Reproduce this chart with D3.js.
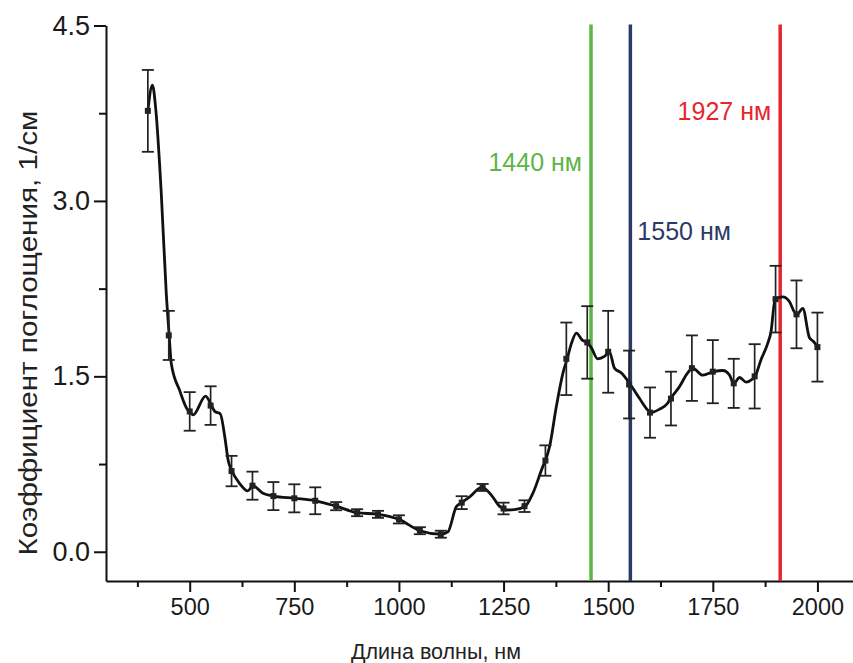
<!DOCTYPE html>
<html>
<head>
<meta charset="utf-8">
<script src="https://cdn.jsdelivr.net/npm/d3@7"></script>
<style>
    body { margin: 0; background: #fff; }
    svg { display: block; }
    text { font-family: "Liberation Sans", Arial, sans-serif; }
</style>
</head>
<body>
<div class="chart"></div>
<script>
// markers with error bars (every 50 nm)
const markerNm = [400, 450, 500, 550, 600, 650, 700, 750, 800, 850, 900, 950, 1000, 1050, 1100, 1150,
    1200, 1250, 1300, 1350, 1400, 1450, 1500, 1550, 1600, 1650, 1700, 1750, 1800, 1850, 1900, 1950, 2000];
const markerVal = [3.77, 1.85, 1.20, 1.25, 0.69, 0.565, 0.476, 0.457, 0.436, 0.39, 0.334, 0.32, 0.277, 0.18, 0.15, 0.42,
    0.55, 0.37, 0.39, 0.78, 1.65, 1.79, 1.71, 1.43, 1.19, 1.31, 1.57, 1.54, 1.44, 1.50, 2.16, 2.03, 1.75];
const markerErr = [0.35, 0.21, 0.165, 0.165, 0.13, 0.12, 0.12, 0.12, 0.115, 0.035, 0.03, 0.03, 0.035, 0.03, 0.03, 0.055,
    0.03, 0.05, 0.05, 0.13, 0.31, 0.31, 0.35, 0.29, 0.215, 0.23, 0.28, 0.27, 0.21, 0.275, 0.285, 0.29, 0.295];

// smooth spectrum curve
const curveNm = [400, 411, 419, 432, 444, 451, 456, 476, 496, 500, 508, 538, 552, 560, 573, 584, 592, 601, 619, 639, 651,
    675, 701, 751, 801, 850, 900, 950, 1000, 1050, 1100, 1117, 1137, 1150, 1169, 1198, 1224, 1240, 1250, 1256, 1276, 1302,
    1320, 1344, 1350, 1360, 1376, 1392, 1402, 1412, 1424, 1438, 1449, 1459, 1475, 1491, 1503, 1515, 1531, 1553, 1575,
    1595, 1601, 1623, 1642, 1649, 1670, 1690, 1702, 1726, 1752, 1774, 1790, 1800, 1814, 1830, 1842, 1851, 1865, 1881,
    1889, 1899, 1917, 1933, 1945, 1951, 1965, 1981, 1990, 2001];
const curveVal = [3.77, 3.99, 3.78, 3.07, 2.21, 1.85, 1.61, 1.38, 1.21, 1.20, 1.17, 1.33, 1.25, 1.20, 1.18, 0.98, 0.78, 0.69,
    0.585, 0.52, 0.565, 0.50, 0.476, 0.457, 0.436, 0.39, 0.334, 0.32, 0.277, 0.18, 0.15, 0.17, 0.385, 0.42, 0.47, 0.55,
    0.47, 0.39, 0.37, 0.357, 0.36, 0.39, 0.50, 0.73, 0.78, 0.90, 1.24, 1.53, 1.65, 1.78, 1.87, 1.81, 1.79, 1.75, 1.65,
    1.67, 1.71, 1.57, 1.53, 1.43, 1.31, 1.21, 1.19, 1.22, 1.27, 1.31, 1.41, 1.53, 1.57, 1.51, 1.54, 1.55, 1.51, 1.44,
    1.49, 1.45, 1.47, 1.50, 1.64, 1.78, 1.88, 2.16, 2.18, 2.14, 2.05, 2.03, 2.08, 1.83, 1.80, 1.75];

// marked wavelengths
const lineNm = [1459, 1553, 1911];
const lineLabel = ["1440 нм", "1550 нм", "1927 нм"];
const lineLabelVal = [3.26, 2.67, 3.69];
const lineColor = ["#5cb548", "#2b3a66", "#e5262d"];

const xTicks = [500, 750, 1000, 1250, 1500, 1750, 2000];
const xMinor = [375, 625, 875, 1125, 1375, 1625, 1875];
const yTicks = [0, 1.5, 3.0, 4.5];
const yMinor = [0.75, 2.25, 3.75];

const w = 853, h = 663;

const svg = d3.select(".chart").append("svg")
    .attr("width", w)
    .attr("height", h);

const xScale = d3.scaleLinear().domain([300, 2085]).range([106, 853]);
const yScale = d3.scaleLinear().domain([-0.25, 4.5]).range([581, 25.5]);
const axisY0 = 581;

// minor ticks first
svg.append("g")
    .attr("transform", "translate(0," + axisY0 + ")")
    .call(d3.axisBottom(xScale).tickValues(xMinor).tickSize(6).tickSizeOuter(0).tickFormat(""))
    .call(g => g.select(".domain").remove())
    .call(g => g.selectAll("line").attr("stroke", "#111").attr("stroke-width", 2));
svg.append("g")
    .attr("transform", "translate(106,0)")
    .call(d3.axisLeft(yScale).tickValues(yMinor).tickSize(7).tickSizeOuter(0).tickFormat(""))
    .call(g => g.select(".domain").remove())
    .call(g => g.selectAll("line").attr("stroke", "#111").attr("stroke-width", 2));

const xAxis = svg.append("g")
    .attr("id", "x-axis")
    .attr("transform", "translate(0," + axisY0 + ")")
    .call(d3.axisBottom(xScale).tickValues(xTicks).tickSize(11).tickSizeOuter(0).tickPadding(6).tickFormat(d3.format("d")));
xAxis.select(".domain").attr("stroke", "#111").attr("stroke-width", 2);
xAxis.selectAll("line").attr("stroke", "#111").attr("stroke-width", 2);
xAxis.selectAll("text").attr("font-size", 23.5).attr("fill", "#1a1a1a").attr("font-family", "Liberation Sans, Arial, sans-serif");

const yAxis = svg.append("g")
    .attr("id", "y-axis")
    .attr("transform", "translate(106,0)")
    .call(d3.axisLeft(yScale).tickValues(yTicks).tickSize(12).tickSizeOuter(0).tickPadding(4).tickFormat(d3.format(".1f")));
yAxis.select(".domain").attr("stroke", "#111").attr("stroke-width", 2);
yAxis.selectAll("line").attr("stroke", "#111").attr("stroke-width", 2);
yAxis.selectAll("text").attr("font-size", 27).attr("fill", "#1a1a1a").attr("font-family", "Liberation Sans, Arial, sans-serif");

// axis titles
svg.append("text")
    .attr("x", 436)
    .attr("y", 659)
    .attr("text-anchor", "middle")
    .attr("font-size", 21.5)
    .attr("fill", "#222")
    .text("Длина волны, нм");

svg.append("text")
    .attr("transform", "translate(37,333) rotate(-90) scale(1.14,1)")
    .attr("text-anchor", "middle")
    .attr("font-size", 26)
    .attr("fill", "#222")
    .text("Коэффициент поглощения, 1/см");

// vertical wavelength lines
svg.selectAll(".mark-line")
    .data(lineNm)
    .enter()
    .append("line")
    .attr("class", "mark-line")
    .attr("x1", d => xScale(d))
    .attr("x2", d => xScale(d))
    .attr("y1", yScale(4.5) - 1)
    .attr("y2", axisY0)
    .attr("stroke", (d, i) => lineColor[i])
    .attr("stroke-width", 3.5);

svg.selectAll(".mark-label")
    .data(lineNm)
    .enter()
    .append("text")
    .attr("class", "mark-label")
    .attr("x", (d, i) => i === 1 ? xScale(d) + 7 : xScale(d) - 9)
    .attr("y", (d, i) => yScale(lineLabelVal[i]))
    .attr("text-anchor", (d, i) => i === 1 ? "start" : "end")
    .attr("font-size", 25)
    .attr("fill", (d, i) => lineColor[i])
    .text((d, i) => lineLabel[i]);

// spectrum curve
const line = d3.line()
    .x(d => xScale(d[0]))
    .y(d => yScale(d[1]))
    .curve(d3.curveMonotoneX);

svg.append("path")
    .datum(curveNm.map((d, i) => [d, curveVal[i]]))
    .attr("d", line)
    .attr("fill", "none")
    .attr("stroke", "#111")
    .attr("stroke-width", 2.8)
    .attr("stroke-linejoin", "round");

// error bars
const markers = markerNm.map((d, i) => ({nm: d, v: markerVal[i], e: markerErr[i]}));
const eb = svg.append("g").attr("class", "errorbars");
const cap = 6;

eb.selectAll(".err")
    .data(markers)
    .enter()
    .append("line")
    .attr("x1", d => xScale(d.nm))
    .attr("x2", d => xScale(d.nm))
    .attr("y1", d => yScale(d.v + d.e))
    .attr("y2", d => yScale(d.v - d.e))
    .attr("stroke", "#222")
    .attr("stroke-width", 1.7);

eb.selectAll(".cap-top")
    .data(markers)
    .enter()
    .append("line")
    .attr("x1", d => xScale(d.nm) - cap)
    .attr("x2", d => xScale(d.nm) + cap)
    .attr("y1", d => yScale(d.v + d.e))
    .attr("y2", d => yScale(d.v + d.e))
    .attr("stroke", "#222")
    .attr("stroke-width", 1.8);

eb.selectAll(".cap-bot")
    .data(markers)
    .enter()
    .append("line")
    .attr("x1", d => xScale(d.nm) - cap)
    .attr("x2", d => xScale(d.nm) + cap)
    .attr("y1", d => yScale(d.v - d.e))
    .attr("y2", d => yScale(d.v - d.e))
    .attr("stroke", "#222")
    .attr("stroke-width", 1.8);

svg.selectAll(".marker")
    .data(markers)
    .enter()
    .append("rect")
    .attr("class", "marker")
    .attr("x", d => xScale(d.nm) - 3)
    .attr("y", d => yScale(d.v) - 3)
    .attr("width", 6)
    .attr("height", 6)
    .attr("fill", "#222");
</script>
</body>
</html>
